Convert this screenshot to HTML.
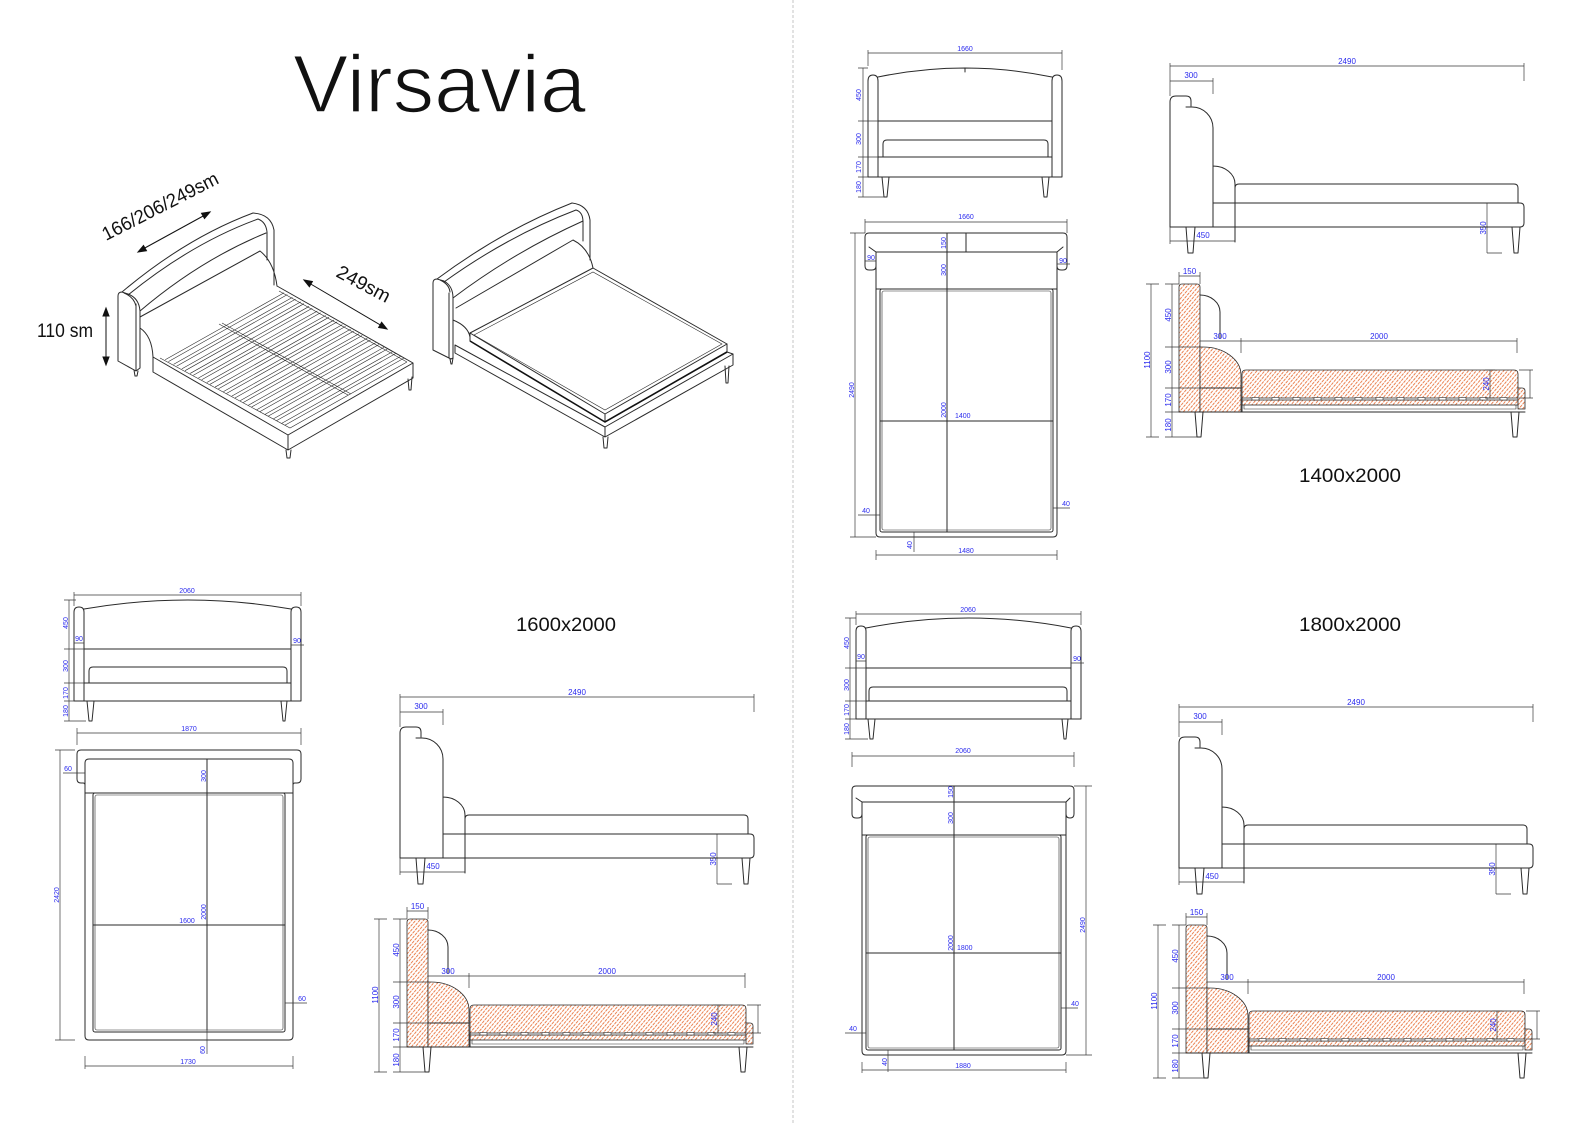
<!DOCTYPE html>
<html><head><meta charset="utf-8">
<style>
html,body{margin:0;padding:0;background:#fff;}
svg{display:block;}
.o{fill:none;stroke:#2a2a2a;stroke-width:1;stroke-linejoin:round;stroke-linecap:round}
.ot{fill:none;stroke:#2a2a2a;stroke-width:0.6}
.d{fill:none;stroke:#3a3a3a;stroke-width:0.7}
.t{font-family:"Liberation Sans",sans-serif;font-size:7px;fill:#2b2bee}
.t8{font-family:"Liberation Sans",sans-serif;font-size:8px;fill:#2b2bee}
.big{font-family:"Liberation Sans",sans-serif;fill:#111}
.hf{fill:url(#h);stroke:#2a2a2a;stroke-width:0.8}
.sl{fill:#fff;stroke:#2a2a2a;stroke-width:0.6}
</style></head><body>
<svg width="1588" height="1123" viewBox="0 0 1588 1123" xmlns="http://www.w3.org/2000/svg">
<defs>
<pattern id="h" width="3" height="4" patternUnits="userSpaceOnUse" patternTransform="rotate(40)">
<rect width="3" height="4" fill="#fff"/>
<line x1="1.5" y1="0.3" x2="1.5" y2="3.3" stroke="#e8733d" stroke-width="0.9"/>
</pattern>
<g id="slat"><path class="ot" d="M165.2,359.8L284.1,292.8M168.4,361.6L287.3,294.6"/></g>
</defs>
<rect width="1588" height="1123" fill="#fff"/>

<!-- divider -->
<line x1="793" y1="0" x2="793" y2="1123" stroke="#c4c4c4" stroke-width="1" stroke-dasharray="3 2"/>

<!-- title -->
<text class="big" x="293" y="112" font-size="82" textLength="293" lengthAdjust="spacingAndGlyphs" stroke="#fff" stroke-width="1.6">Virsavia</text>

<!-- ================= ISO BED 1 ================= -->
<g class="o">
<path d="M118,361V296Q118,292 122,292L128,294Q139,298 140,311V368L136,371L118,361Z M136,371V304 M124,293Q134,297 136,306"/>
<path d="M122,292Q186,238 253,213 M128,295Q192,243 258,219 M140,311Q200,260 266,233"/>
<path d="M253,213Q271,214 274,230V285 M258,219Q266,222 267,232V260"/>
<path d="M140,317L260,251Q274,262 277,286 M140,328Q152,336 153,357"/>
<path d="M153,357L288,435L413,363L277,286 M153,357V372L288,450L413,378V363 M288,435V450"/>
<path d="M286,450L287,458H290L291,450 M408,379L409,390H411L412,377 M134,370L135,376H137L138,371"/>
</g>
<path class="ot" d="M160,358L290,428L407,362 M279,291L407,362"/>
<use href="#slat"/>
<use href="#slat" transform="translate(8.32,4.54)"/>
<use href="#slat" transform="translate(16.64,9.09)"/>
<use href="#slat" transform="translate(24.96,13.63)"/>
<use href="#slat" transform="translate(33.28,18.18)"/>
<use href="#slat" transform="translate(41.6,22.72)"/>
<use href="#slat" transform="translate(49.92,27.26)"/>
<use href="#slat" transform="translate(58.24,31.81)"/>
<use href="#slat" transform="translate(66.56,36.35)"/>
<use href="#slat" transform="translate(74.88,40.9)"/>
<use href="#slat" transform="translate(83.2,45.44)"/>
<use href="#slat" transform="translate(91.52,49.98)"/>
<use href="#slat" transform="translate(99.84,54.53)"/>
<use href="#slat" transform="translate(108.16,59.07)"/>
<use href="#slat" transform="translate(116.48,63.62)"/>
<path class="ot" d="M219,324L348,395 M222,323L351,394"/>

<!-- iso dims -->
<g stroke="#111" stroke-width="1" fill="#111">
<line x1="143" y1="249" x2="205" y2="215"/>
<polygon points="138,252 146.5,250.7 143.5,245.5"/>
<polygon points="210,212 204.5,218.5 201.5,213.3"/>
<line x1="309" y1="283" x2="382" y2="326"/>
<polygon points="304,280 309.4,286.7 312.4,281.5"/>
<polygon points="387,329 378.6,327.5 381.6,322.3"/>
<line x1="106" y1="314" x2="106" y2="359"/>
<polygon points="106,308 103,316 109,316"/>
<polygon points="106,365 103,357 109,357"/>
</g>
<text class="big" font-size="19" transform="translate(106,241) rotate(-27)" textLength="128" lengthAdjust="spacingAndGlyphs">166/206/249sm</text>
<text class="big" font-size="19" transform="translate(335,276) rotate(28)" textLength="58" lengthAdjust="spacingAndGlyphs">249sm</text>
<text class="big" font-size="19" x="37" y="337" textLength="56" lengthAdjust="spacingAndGlyphs">110 sm</text>

<!-- ================= ISO BED 2 ================= -->
<g class="o">
<path d="M433,350V283Q433,279 437,279L444,281Q453,286 453,298V358L451,359L433,350Z M449,358V293 M440,280Q449,284 450,292"/>
<path d="M437,279Q503,230 572,203 M444,282Q508,236 576,210 M453,298Q514,252 583,221"/>
<path d="M572,203Q588,205 590,220V260 M576,210Q583,212 583,222V241"/>
<path d="M456,308L573,240Q589,248 593,268 M453,320Q468,326 470,337"/>
<path d="M470,333L593,268L727,344L605,414Z"/>
<path d="M470,333V341 M605,414V422 M727,344V352"/>
<path d="M455,345L605,427L733,354 M455,345V353L605,437L733,365V354 M605,427V437 M727,352L733,354"/>
<path d="M603,437L604,448H607L608,437 M725,366L726,383H728L729,366 M450,359L451,364H452L453,358"/>
</g>
<path class="ot" d="M474,335L593,272L722,344L605,410Z"/>
<path fill="none" stroke="#111" stroke-width="1.6" d="M470,341L605,422L727,352"/>

<!-- ================= 1400 FRONT ================= -->
<path class="o" d="M868,177V81Q868,75 873,75Q878,75 878,81V177 M1052,177V81Q1052,75 1057,75Q1062,75 1062,81V177 M878,77Q965,59 1052,77 M965,68V72 M878,121H1052 M883,157V144Q883,140 887,140H1044Q1048,140 1048,144V157 M878,157H1052 M868,177H1062 M882,177L884,197H887L889,177 M1042,177L1044,197H1047L1049,177"/>
<path class="d" d="M868,53H1062 M868,50V66 M1062,50V70 M863,68V197 M858,68H868 M858,121H878 M858,157H878 M858,177H868 M858,197H884"/>
<text class="t" x="965" y="51" text-anchor="middle">1660</text>
<text class="t" transform="translate(861,95) rotate(-90)" text-anchor="middle">450</text>
<text class="t" transform="translate(861,139) rotate(-90)" text-anchor="middle">300</text>
<text class="t" transform="translate(861,167) rotate(-90)" text-anchor="middle">170</text>
<text class="t" transform="translate(861,187) rotate(-90)" text-anchor="middle">180</text>

<!-- ================= 1400 PLAN ================= -->
<path class="o" d="M876,252V266Q876,270 872,270H869Q865,270 865,266V237Q865,233 869,233H1063Q1067,233 1067,237V266Q1067,270 1063,270H1061Q1057,270 1057,266V252 M876,252H1057 M966,233V252 M876,252V533Q876,537 880,537H1053Q1057,537 1057,533V252 M876,289H1057 M869,247L876,252 M1063,247L1057,252"/>
<rect class="o" x="880" y="289" width="173" height="243" rx="2"/>
<rect class="ot" x="882" y="291" width="169" height="239" rx="2"/>
<path class="o" d="M947,233V532 M880,421H1053"/>
<path class="d" d="M865,222H1067 M865,219V233 M1067,219V233 M855,233V537 M850,233H865 M850,537H876 M865,261H876 M1057,264H1070 M858,515H880 M1053,508H1070 M876,555H1057 M876,550V560 M1057,550V560 M914,532V552"/>
<text class="t" x="966" y="219" text-anchor="middle">1660</text>
<text class="t" transform="translate(854,390) rotate(-90)" text-anchor="middle">2490</text>
<text class="t" transform="translate(946,243) rotate(-90)" text-anchor="middle">150</text>
<text class="t" transform="translate(946,270) rotate(-90)" text-anchor="middle">300</text>
<text class="t" transform="translate(946,410) rotate(-90)" text-anchor="middle">2000</text>
<text class="t" x="955" y="418">1400</text>
<text class="t" x="871" y="260" text-anchor="middle">90</text>
<text class="t" x="1063" y="263" text-anchor="middle">90</text>
<text class="t" x="866" y="513" text-anchor="middle">40</text>
<text class="t" x="1066" y="506" text-anchor="middle">40</text>
<text class="t" transform="translate(912,545) rotate(-90)" text-anchor="middle">40</text>
<text class="t" x="966" y="553" text-anchor="middle">1480</text>

<!-- ================= 1400 SIDE ================= -->
<g transform="translate(1170,66)">
<path class="d" d="M0,0H354 M0,-3V30 M354,-3V15 M0,15H43 M43,12V28 M0,175H65 M0,161V178 M317,137V187 M317,187H332"/>
<text class="t8" x="177" y="-2" text-anchor="middle">2490</text>
<text class="t8" x="21" y="12" text-anchor="middle">300</text>
<text class="t8" x="33" y="172" text-anchor="middle">450</text>
<text class="t8" transform="translate(316,162) rotate(-90)" text-anchor="middle">350</text>
<path class="o" d="M0,161V36Q0,30 6,30H16Q21,30 21,35V40 M16,41H22A21,21 0 0 1 43,62V161 M43,100A22,18 0 0 1 65,118V176 M65,137V122Q65,118 69,118H344Q348,118 348,122V137 M43,137H350Q354,137 354,141V157Q354,161 350,161H0"/>
<path class="o" d="M16,161L18,187H23L25,161 M342,161L344,187H348L350,161"/>
</g>

<!-- ================= 1400 SECTION ================= -->
<g transform="translate(1179,284)">
<path class="hf" d="M0,128V3Q0,0 3,0H18Q21,0 21,3V128Z"/>
<path class="hf" d="M21,63H24A38,28 0 0 1 62,91V128H21Z"/>
<path class="o" d="M21,104H62"/>
<path class="hf" d="M63,114V90Q63,86 67,86H335Q339,86 339,90V114Z"/>
<rect class="hf" x="63" y="116" width="276" height="5"/>
<path class="ot" d="M65,121V125H337V121"/>
<path class="hf" d="M339,104H343Q346,104 346,107V125H339Z"/>
<g class="sl"><rect x="73" y="113.5" width="7" height="2.5"/><rect x="93" y="113.5" width="7" height="2.5"/><rect x="114" y="113.5" width="7" height="2.5"/><rect x="135" y="113.5" width="7" height="2.5"/><rect x="156" y="113.5" width="7" height="2.5"/><rect x="176" y="113.5" width="7" height="2.5"/><rect x="197" y="113.5" width="7" height="2.5"/><rect x="218" y="113.5" width="7" height="2.5"/><rect x="239" y="113.5" width="7" height="2.5"/><rect x="260" y="113.5" width="7" height="2.5"/><rect x="280" y="113.5" width="7" height="2.5"/><rect x="301" y="113.5" width="7" height="2.5"/><rect x="321" y="113.5" width="7" height="2.5"/></g>
<path class="o" d="M0,128H346 M63,114V128 M21,11A20,17 0 0 1 41,28V54 M16,128L18,153H22L24,128 M332,128L334,153H338L340,128"/>
<path class="d" d="M0,-8H21 M0,-12V0 M21,-12V0 M21,57H338 M62,54V69 M338,54V69 M311,86V114 M306,86H316 M306,114H316 M351,86V114 M340,86H354 M340,114H354 M-28,0V153 M-33,0H-20 M-33,153H-20 M-7,0V153 M-14,0H0 M-14,63H21 M-14,104H21 M-14,128H0 M-14,153H18"/>
<text class="t8" x="10.5" y="-10" text-anchor="middle">150</text>
<text class="t8" x="41" y="55" text-anchor="middle">300</text>
<text class="t8" x="200" y="55" text-anchor="middle">2000</text>
<text class="t8" transform="translate(310,100) rotate(-90)" text-anchor="middle">240</text>
<text class="t8" transform="translate(-29,76) rotate(-90)" text-anchor="middle">1100</text>
<text class="t8" transform="translate(-8,31) rotate(-90)" text-anchor="middle">450</text>
<text class="t8" transform="translate(-8,83) rotate(-90)" text-anchor="middle">300</text>
<text class="t8" transform="translate(-8,116) rotate(-90)" text-anchor="middle">170</text>
<text class="t8" transform="translate(-8,141) rotate(-90)" text-anchor="middle">180</text>
</g>

<text class="big" x="1299" y="482" font-size="19" textLength="102" lengthAdjust="spacingAndGlyphs">1400x2000</text>
<text class="big" x="516" y="631" font-size="19" textLength="100" lengthAdjust="spacingAndGlyphs">1600x2000</text>
<text class="big" x="1299" y="631" font-size="19" textLength="102" lengthAdjust="spacingAndGlyphs">1800x2000</text>

<!-- ================= 1600 FRONT ================= -->
<path class="o" d="M74,701V612Q74,607 79,607Q84,607 84,612V701 M291,701V612Q291,607 296,607Q301,607 301,612V701 M84,609Q188,591 291,609 M84,649H291 M89,683V671Q89,667 93,667H283Q287,667 287,671V683 M84,683H291 M74,701H301 M87,701L89,721H92L94,701 M281,701L283,721H285L287,701"/>
<path class="d" d="M74,595H301 M74,592V606 M301,592V606 M69,600V721 M64,600H76 M64,649H84 M64,683H84 M64,701H74 M64,721H86 M74,643H84 M291,645H304"/>
<text class="t" x="187" y="593" text-anchor="middle">2060</text>
<text class="t" transform="translate(68,623) rotate(-90)" text-anchor="middle">450</text>
<text class="t" transform="translate(68,666) rotate(-90)" text-anchor="middle">300</text>
<text class="t" transform="translate(68,693) rotate(-90)" text-anchor="middle">170</text>
<text class="t" transform="translate(68,711) rotate(-90)" text-anchor="middle">180</text>
<text class="t" x="79" y="641" text-anchor="middle">90</text>
<text class="t" x="297" y="643" text-anchor="middle">90</text>

<!-- ================= 1600 PLAN ================= -->
<path class="o" d="M85,793V785Q85,783 83,783H81Q77,783 77,779V754Q77,750 81,750H297Q301,750 301,754V779Q301,783 297,783H295Q293,783 293,785V793 M85,793V763Q85,759 89,759H289Q293,759 293,763V793 M85,793H293 M85,793V1036Q85,1040 89,1040H289Q293,1040 293,1036V793"/>
<rect class="o" x="93" y="793" width="192" height="239" rx="2"/>
<rect class="ot" x="95" y="795" width="188" height="235" rx="2"/>
<path class="o" d="M207,759V1030 M93,925H285"/>
<path class="d" d="M77,733H301 M77,728V745 M301,728V745 M60,750V1040 M55,750H75 M55,1040H75 M63,773H85 M285,1003H307 M207,1030V1054 M85,1066H293 M85,1056V1069 M293,1056V1069"/>
<text class="t" x="189" y="731" text-anchor="middle">1870</text>
<text class="t" transform="translate(59,895) rotate(-90)" text-anchor="middle">2420</text>
<text class="t" x="68" y="771" text-anchor="middle">60</text>
<text class="t" x="302" y="1001" text-anchor="middle">60</text>
<text class="t" transform="translate(206,776) rotate(-90)" text-anchor="middle">300</text>
<text class="t" transform="translate(206,912) rotate(-90)" text-anchor="middle">2000</text>
<text class="t" x="187" y="923" text-anchor="middle">1600</text>
<text class="t" transform="translate(205,1050) rotate(-90)" text-anchor="middle">60</text>
<text class="t" x="188" y="1064" text-anchor="middle">1730</text>

<!-- ================= 1600 SIDE ================= -->
<g transform="translate(400,697)">
<path class="d" d="M0,0H354 M0,-3V30 M354,-3V15 M0,15H43 M43,12V28 M0,175H65 M0,161V178 M317,137V187 M317,187H332"/>
<text class="t8" x="177" y="-2" text-anchor="middle">2490</text>
<text class="t8" x="21" y="12" text-anchor="middle">300</text>
<text class="t8" x="33" y="172" text-anchor="middle">450</text>
<text class="t8" transform="translate(316,162) rotate(-90)" text-anchor="middle">350</text>
<path class="o" d="M0,161V36Q0,30 6,30H16Q21,30 21,35V40 M16,41H22A21,21 0 0 1 43,62V161 M43,100A22,18 0 0 1 65,118V176 M65,137V122Q65,118 69,118H344Q348,118 348,122V137 M43,137H350Q354,137 354,141V157Q354,161 350,161H0"/>
<path class="o" d="M16,161L18,187H23L25,161 M342,161L344,187H348L350,161"/>
</g>

<!-- ================= 1600 SECTION ================= -->
<g transform="translate(407,919)">
<path class="hf" d="M0,128V3Q0,0 3,0H18Q21,0 21,3V128Z"/>
<path class="hf" d="M21,63H24A38,28 0 0 1 62,91V128H21Z"/>
<path class="o" d="M21,104H62"/>
<path class="hf" d="M63,114V90Q63,86 67,86H335Q339,86 339,90V114Z"/>
<rect class="hf" x="63" y="116" width="276" height="5"/>
<path class="ot" d="M65,121V125H337V121"/>
<path class="hf" d="M339,104H343Q346,104 346,107V125H339Z"/>
<g class="sl"><rect x="73" y="113.5" width="7" height="2.5"/><rect x="93" y="113.5" width="7" height="2.5"/><rect x="114" y="113.5" width="7" height="2.5"/><rect x="135" y="113.5" width="7" height="2.5"/><rect x="156" y="113.5" width="7" height="2.5"/><rect x="176" y="113.5" width="7" height="2.5"/><rect x="197" y="113.5" width="7" height="2.5"/><rect x="218" y="113.5" width="7" height="2.5"/><rect x="239" y="113.5" width="7" height="2.5"/><rect x="260" y="113.5" width="7" height="2.5"/><rect x="280" y="113.5" width="7" height="2.5"/><rect x="301" y="113.5" width="7" height="2.5"/><rect x="321" y="113.5" width="7" height="2.5"/></g>
<path class="o" d="M0,128H346 M63,114V128 M21,11A20,17 0 0 1 41,28V54 M16,128L18,153H22L24,128 M332,128L334,153H338L340,128"/>
<path class="d" d="M0,-8H21 M0,-12V0 M21,-12V0 M21,57H338 M62,54V69 M338,54V69 M311,86V114 M306,86H316 M306,114H316 M351,86V114 M340,86H354 M340,114H354 M-28,0V153 M-33,0H-20 M-33,153H-20 M-7,0V153 M-14,0H0 M-14,63H21 M-14,104H21 M-14,128H0 M-14,153H18"/>
<text class="t8" x="10.5" y="-10" text-anchor="middle">150</text>
<text class="t8" x="41" y="55" text-anchor="middle">300</text>
<text class="t8" x="200" y="55" text-anchor="middle">2000</text>
<text class="t8" transform="translate(310,100) rotate(-90)" text-anchor="middle">240</text>
<text class="t8" transform="translate(-29,76) rotate(-90)" text-anchor="middle">1100</text>
<text class="t8" transform="translate(-8,31) rotate(-90)" text-anchor="middle">450</text>
<text class="t8" transform="translate(-8,83) rotate(-90)" text-anchor="middle">300</text>
<text class="t8" transform="translate(-8,116) rotate(-90)" text-anchor="middle">170</text>
<text class="t8" transform="translate(-8,141) rotate(-90)" text-anchor="middle">180</text>
</g>

<!-- ================= 1800 FRONT ================= -->
<path class="o" d="M856,719V631Q856,626 861,626Q866,626 866,631V719 M1071,719V631Q1071,626 1076,626Q1081,626 1081,631V719 M866,628Q968,608 1071,628 M866,668H1071 M869,701V691Q869,687 873,687H1063Q1067,687 1067,691V701 M866,701H1071 M856,719H1081 M868,719L870,739H873L875,719 M1062,719L1064,739H1066L1068,719"/>
<path class="d" d="M856,614H1081 M856,611V625 M1081,611V625 M850,618V739 M845,618H856 M845,668H866 M845,701H866 M845,719H856 M845,739H868 M856,661H866 M1071,663H1084"/>
<text class="t" x="968" y="612" text-anchor="middle">2060</text>
<text class="t" transform="translate(849,643) rotate(-90)" text-anchor="middle">450</text>
<text class="t" transform="translate(849,685) rotate(-90)" text-anchor="middle">300</text>
<text class="t" transform="translate(849,710) rotate(-90)" text-anchor="middle">170</text>
<text class="t" transform="translate(849,729) rotate(-90)" text-anchor="middle">180</text>
<text class="t" x="861" y="659" text-anchor="middle">90</text>
<text class="t" x="1077" y="661" text-anchor="middle">90</text>

<!-- ================= 1800 PLAN ================= -->
<path class="o" d="M862,802V814Q862,818 858,818H856Q852,818 852,814V790Q852,786 856,786H1070Q1074,786 1074,790V814Q1074,818 1070,818H1070Q1066,818 1066,814V802 M862,802H1066 M856,798L862,802 M1070,798L1066,802 M862,802V1051Q862,1055 866,1055H1062Q1066,1055 1066,1051V802 M862,835H1066"/>
<rect class="o" x="866" y="835" width="195" height="215" rx="2"/>
<rect class="ot" x="868" y="837" width="191" height="211" rx="2"/>
<path class="o" d="M954,786V1050 M866,953H1061"/>
<path class="d" d="M852,756H1074 M852,752V767 M1074,752V767 M1086,786V1055 M1074,786H1092 M1066,1055H1092 M845,1033H866 M1061,1008H1078 M888,1050V1072 M862,1070H1066 M862,1062V1073 M1066,1062V1073"/>
<text class="t" x="963" y="753" text-anchor="middle">2060</text>
<text class="t" transform="translate(1085,925) rotate(-90)" text-anchor="middle">2490</text>
<text class="t" transform="translate(953,792) rotate(-90)" text-anchor="middle">150</text>
<text class="t" transform="translate(953,818) rotate(-90)" text-anchor="middle">300</text>
<text class="t" transform="translate(953,943) rotate(-90)" text-anchor="middle">2000</text>
<text class="t" x="957" y="950">1800</text>
<text class="t" x="853" y="1031" text-anchor="middle">40</text>
<text class="t" x="1075" y="1006" text-anchor="middle">40</text>
<text class="t" transform="translate(887,1062) rotate(-90)" text-anchor="middle">40</text>
<text class="t" x="963" y="1068" text-anchor="middle">1880</text>

<!-- ================= 1800 SIDE ================= -->
<g transform="translate(1179,707)">
<path class="d" d="M0,0H354 M0,-3V30 M354,-3V15 M0,15H43 M43,12V28 M0,175H65 M0,161V178 M317,137V187 M317,187H332"/>
<text class="t8" x="177" y="-2" text-anchor="middle">2490</text>
<text class="t8" x="21" y="12" text-anchor="middle">300</text>
<text class="t8" x="33" y="172" text-anchor="middle">450</text>
<text class="t8" transform="translate(316,162) rotate(-90)" text-anchor="middle">350</text>
<path class="o" d="M0,161V36Q0,30 6,30H16Q21,30 21,35V40 M16,41H22A21,21 0 0 1 43,62V161 M43,100A22,18 0 0 1 65,118V176 M65,137V122Q65,118 69,118H344Q348,118 348,122V137 M43,137H350Q354,137 354,141V157Q354,161 350,161H0"/>
<path class="o" d="M16,161L18,187H23L25,161 M342,161L344,187H348L350,161"/>
</g>

<!-- ================= 1800 SECTION ================= -->
<g transform="translate(1186,925)">
<path class="hf" d="M0,128V3Q0,0 3,0H18Q21,0 21,3V128Z"/>
<path class="hf" d="M21,63H24A38,28 0 0 1 62,91V128H21Z"/>
<path class="o" d="M21,104H62"/>
<path class="hf" d="M63,114V90Q63,86 67,86H335Q339,86 339,90V114Z"/>
<rect class="hf" x="63" y="116" width="276" height="5"/>
<path class="ot" d="M65,121V125H337V121"/>
<path class="hf" d="M339,104H343Q346,104 346,107V125H339Z"/>
<g class="sl"><rect x="73" y="113.5" width="7" height="2.5"/><rect x="93" y="113.5" width="7" height="2.5"/><rect x="114" y="113.5" width="7" height="2.5"/><rect x="135" y="113.5" width="7" height="2.5"/><rect x="156" y="113.5" width="7" height="2.5"/><rect x="176" y="113.5" width="7" height="2.5"/><rect x="197" y="113.5" width="7" height="2.5"/><rect x="218" y="113.5" width="7" height="2.5"/><rect x="239" y="113.5" width="7" height="2.5"/><rect x="260" y="113.5" width="7" height="2.5"/><rect x="280" y="113.5" width="7" height="2.5"/><rect x="301" y="113.5" width="7" height="2.5"/><rect x="321" y="113.5" width="7" height="2.5"/></g>
<path class="o" d="M0,128H346 M63,114V128 M21,11A20,17 0 0 1 41,28V54 M16,128L18,153H22L24,128 M332,128L334,153H338L340,128"/>
<path class="d" d="M0,-8H21 M0,-12V0 M21,-12V0 M21,57H338 M62,54V69 M338,54V69 M311,86V114 M306,86H316 M306,114H316 M351,86V114 M340,86H354 M340,114H354 M-28,0V153 M-33,0H-20 M-33,153H-20 M-7,0V153 M-14,0H0 M-14,63H21 M-14,104H21 M-14,128H0 M-14,153H18"/>
<text class="t8" x="10.5" y="-10" text-anchor="middle">150</text>
<text class="t8" x="41" y="55" text-anchor="middle">300</text>
<text class="t8" x="200" y="55" text-anchor="middle">2000</text>
<text class="t8" transform="translate(310,100) rotate(-90)" text-anchor="middle">240</text>
<text class="t8" transform="translate(-29,76) rotate(-90)" text-anchor="middle">1100</text>
<text class="t8" transform="translate(-8,31) rotate(-90)" text-anchor="middle">450</text>
<text class="t8" transform="translate(-8,83) rotate(-90)" text-anchor="middle">300</text>
<text class="t8" transform="translate(-8,116) rotate(-90)" text-anchor="middle">170</text>
<text class="t8" transform="translate(-8,141) rotate(-90)" text-anchor="middle">180</text>
</g>

</svg>
</body></html>
